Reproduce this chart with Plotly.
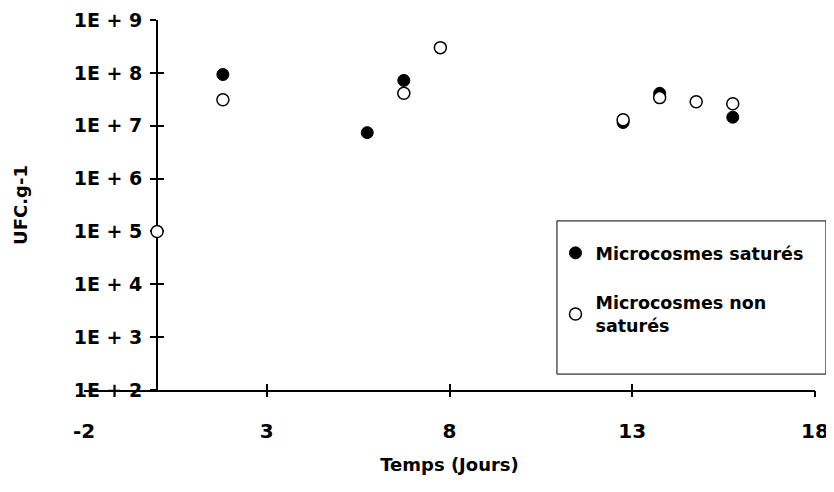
import plotly.graph_objects as go

# Data
sat_x = [1.8, 5.75, 6.75, 12.75, 13.75, 15.75]
sat_y = [9.3e7, 7.4e6, 7.2e7, 1.15e7, 4.1e7, 1.45e7]

nonsat_x = [0, 1.8, 6.75, 7.75, 12.75, 13.75, 14.75, 15.75]
nonsat_y = [1e5, 3.1e7, 4.1e7, 3.0e8, 1.3e7, 3.4e7, 2.85e7, 2.6e7]

x_tickvals = [-2, 3, 8, 13, 18]
x_ticktext = ["-2", "3", "8", "13", "18"]
y_tickvals = [1e2, 1e3, 1e4, 1e5, 1e6, 1e7, 1e8, 1e9]
y_ticktext = ["1E + 2", "1E + 3", "1E + 4", "1E + 5", "1E + 6", "1E + 7", "1E + 8", "1E + 9"]

FONT = "DejaVu Sans"

fig = go.Figure()
fig.add_trace(go.Scatter(
    x=sat_x, y=sat_y, mode="markers", name="Microcosmes saturés",
    marker=dict(symbol="circle", size=12, color="black", line=dict(color="black", width=1)),
    legendgroup="a",
))
fig.add_trace(go.Scatter(
    x=nonsat_x, y=nonsat_y, mode="markers", name="Microcosmes non<br>saturés",
    marker=dict(symbol="circle", size=12, color="white", line=dict(color="black", width=1.5)),
    legendgroup="b",
))

common_x = dict(range=[-2, 18], showgrid=False, zeroline=False, layer="below traces", automargin=False)
common_y = dict(type="log", range=[2, 9], showgrid=False, zeroline=False, layer="below traces", automargin=False)

fig.update_layout(
    width=826, height=476, autosize=False,
    margin=dict(l=76, r=19, t=12, b=94),
    paper_bgcolor="white", plot_bgcolor="white",
    font=dict(family=FONT, color="black"),
    showlegend=True,
    xaxis=dict(
        **common_x,
        tickvals=x_tickvals, ticktext=x_ticktext,
        ticks="outside", ticklen=0, ticklabelstandoff=22,
        ticklabeloverflow="allow",
        showline=True, linecolor="black", linewidth=2,
        tickfont=dict(family=FONT, size=20, weight="bold"),
        title=dict(text="Temps (Jours)", font=dict(family=FONT, size=18, weight="bold"), standoff=16),
    ),
    xaxis2=dict(
        **common_x, overlaying="x", anchor="y",
        tickvals=x_tickvals[1:], ticks="inside", ticklen=6, tickwidth=2, tickcolor="black",
        showticklabels=False, showline=False,
    ),
    xaxis3=dict(
        **common_x, overlaying="x", anchor="y",
        tickvals=x_tickvals[1:], ticks="outside", ticklen=6, tickwidth=2, tickcolor="black",
        showticklabels=False, showline=False,
    ),
    yaxis=dict(
        **common_y, anchor="free", position=0.1,
        tickvals=y_tickvals, ticktext=y_ticktext,
        ticks="outside", ticklen=6, tickwidth=2, tickcolor="black", ticklabelstandoff=4,
        ticklabeloverflow="allow",
        showline=True, linecolor="black", linewidth=2,
        tickfont=dict(family=FONT, size=19, weight="bold"),
        title=dict(text="UFC.g-1", font=dict(family=FONT, size=18, weight="bold"), standoff=40),
    ),
    yaxis2=dict(
        **common_y, overlaying="y", anchor="free", position=0.1,
        tickvals=y_tickvals, ticks="inside", ticklen=6, tickwidth=2, tickcolor="black",
        showticklabels=False, showline=False,
    ),
    legend=dict(
        x=0.645, y=0.419, xanchor="left", yanchor="top",
        bgcolor="rgba(0,0,0,0)", borderwidth=0,
        font=dict(family=FONT, size=17.5, weight="bold"),
        traceorder="grouped", tracegroupgap=24,
    ),
    shapes=[dict(
        type="rect", xref="paper", yref="paper",
        x0=0.647, x1=1.015, y0=0.043, y1=0.457,
        line=dict(color="black", width=1), fillcolor="rgba(0,0,0,0)",
    )],
)

# invisible traces so the overlay tick axes are rendered
fig.add_trace(go.Scatter(x=[None], y=[None], xaxis="x2", yaxis="y2", showlegend=False, hoverinfo="skip"))
fig.add_trace(go.Scatter(x=[None], y=[None], xaxis="x3", yaxis="y", showlegend=False, hoverinfo="skip"))

fig.write_html("out.html")
